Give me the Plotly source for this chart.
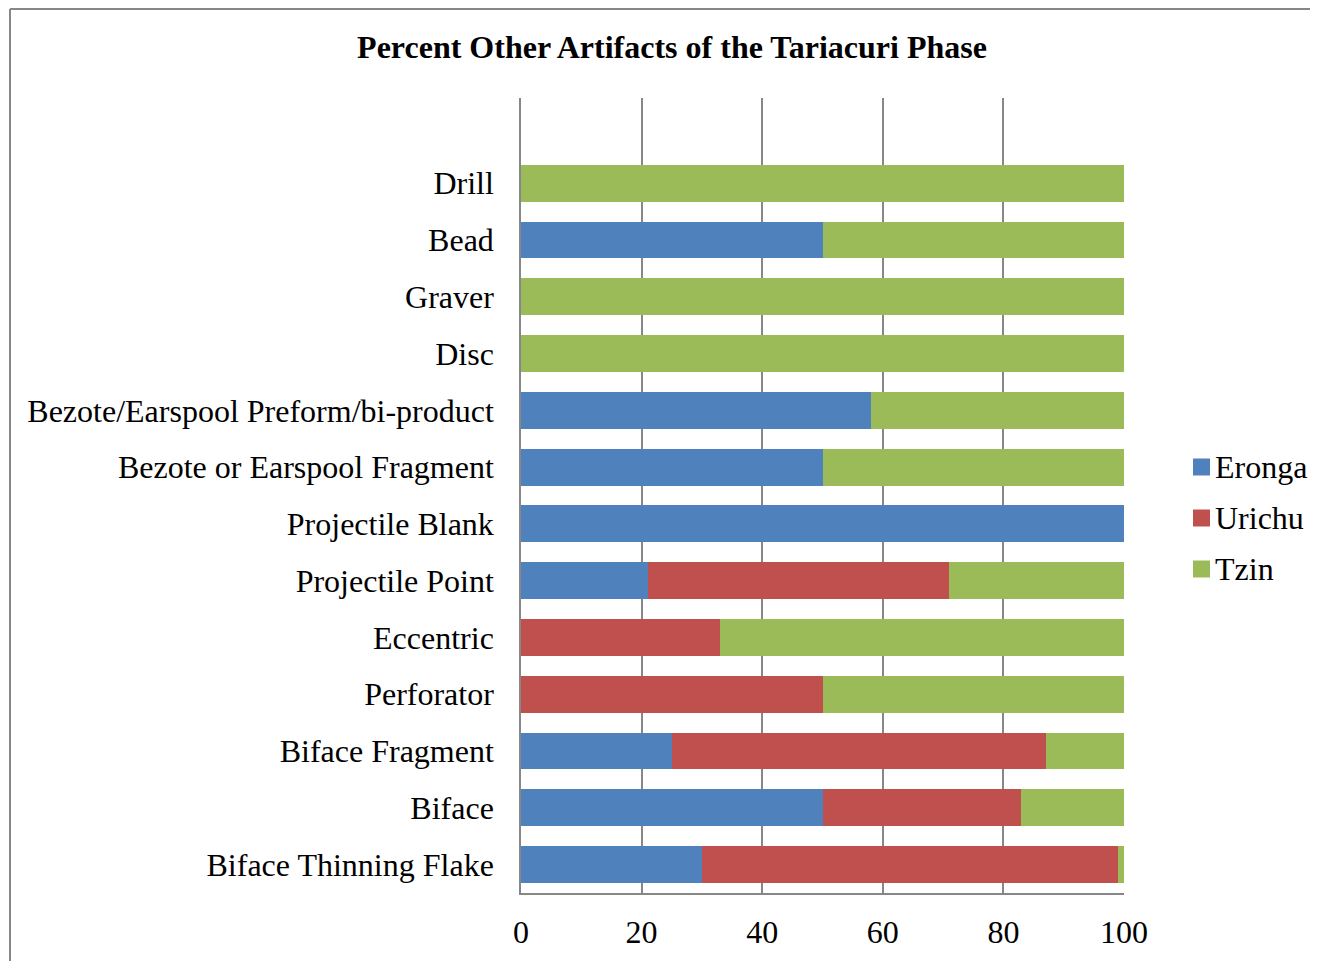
import plotly.graph_objects as go

categories = ["Biface Thinning Flake", "Biface", "Biface Fragment", "Perforator", "Eccentric",
              "Projectile Point", "Projectile Blank", "Bezote or Earspool Fragment",
              "Bezote/Earspool Preform/bi-product", "Disc", "Graver", "Bead", "Drill"]
eronga = [30, 50, 25, 0, 0, 21, 100, 50, 58, 0, 0, 50, 0]
urichu = [69, 33, 62, 50, 33, 50, 0, 0, 0, 0, 0, 0, 0]
tzin = [1, 17, 13, 50, 67, 29, 0, 50, 42, 100, 100, 50, 100]
x_ticks = [0, 20, 40, 60, 80, 100]

series_names = ["Eronga", "Urichu", "Tzin"]
series_vals = [eronga, urichu, tzin]
series_colors = ["#4F81BD", "#C0504D", "#9BBB59"]

FONT = "Liberation Serif, Times New Roman, serif"
OFF = 8  # page body margin offset
W, H = 1318 - OFF, 961 - OFF
L, R, T, B = 521 - OFF, 1124 - OFF, 98 - OFF, 893 - OFF
pw, ph = R - L, B - T


def px(x):
    return (x - OFF - L) / pw


def py(y):
    return (B - (y - OFF)) / ph


fig = go.Figure()
for name, vals, col in zip(series_names, series_vals, series_colors):
    fig.add_trace(go.Bar(y=categories, x=vals, name=name, orientation="h", showlegend=False,
                         marker=dict(color=col, line=dict(width=0))))

shapes = [
    dict(type="line", xref="paper", yref="paper", x0=px(10), x1=px(1330), y0=py(9), y1=py(9),
         line=dict(color="#878787", width=2)),
    dict(type="line", xref="paper", yref="paper", x0=px(10), x1=px(10), y0=py(9), y1=py(975),
         line=dict(color="#878787", width=2)),
]
annotations = []
legend_y = [467, 518, 569]
for name, col, ly in zip(series_names, series_colors, legend_y):
    shapes.append(dict(type="rect", xref="paper", yref="paper",
                       x0=px(1193), x1=px(1210), y0=py(ly - 8.5), y1=py(ly + 8.5),
                       fillcolor=col, line=dict(width=0)))
    annotations.append(dict(text=name, xref="paper", yref="paper", x=px(1213), y=py(ly),
                            xanchor="left", yanchor="middle", showarrow=False,
                            font=dict(size=32, family=FONT, color="black")))

fig.update_layout(
    width=W, height=H,
    barmode="stack", bargap=0.35,
    paper_bgcolor="white", plot_bgcolor="white",
    margin=dict(l=L, r=W - R, t=T, b=H - B, autoexpand=False),
    font=dict(family=FONT, color="black", size=32),
    title=dict(text="<b>Percent Other Artifacts of the Tariacuri Phase</b>",
               x=(672 - OFF) / W, xanchor="center", y=1 - (47 - OFF) / H, yanchor="middle",
               font=dict(size=32, family=FONT)),
    xaxis=dict(range=[0, 100], tickvals=x_ticks, showgrid=True, gridcolor="#878787", gridwidth=1.5,
               showline=True, linecolor="#878787", linewidth=1.5, zeroline=False,
               ticks="", ticklabelstandoff=10, tickfont=dict(size=32)),
    yaxis=dict(categoryorder="array", categoryarray=categories, range=[-0.5, 13.5],
               showgrid=False, showline=True, linecolor="#878787", linewidth=1.5,
               ticks="", ticklabelstandoff=19, tickfont=dict(size=32)),
    shapes=shapes,
    annotations=annotations,
)

fig.write_html("out.html")
